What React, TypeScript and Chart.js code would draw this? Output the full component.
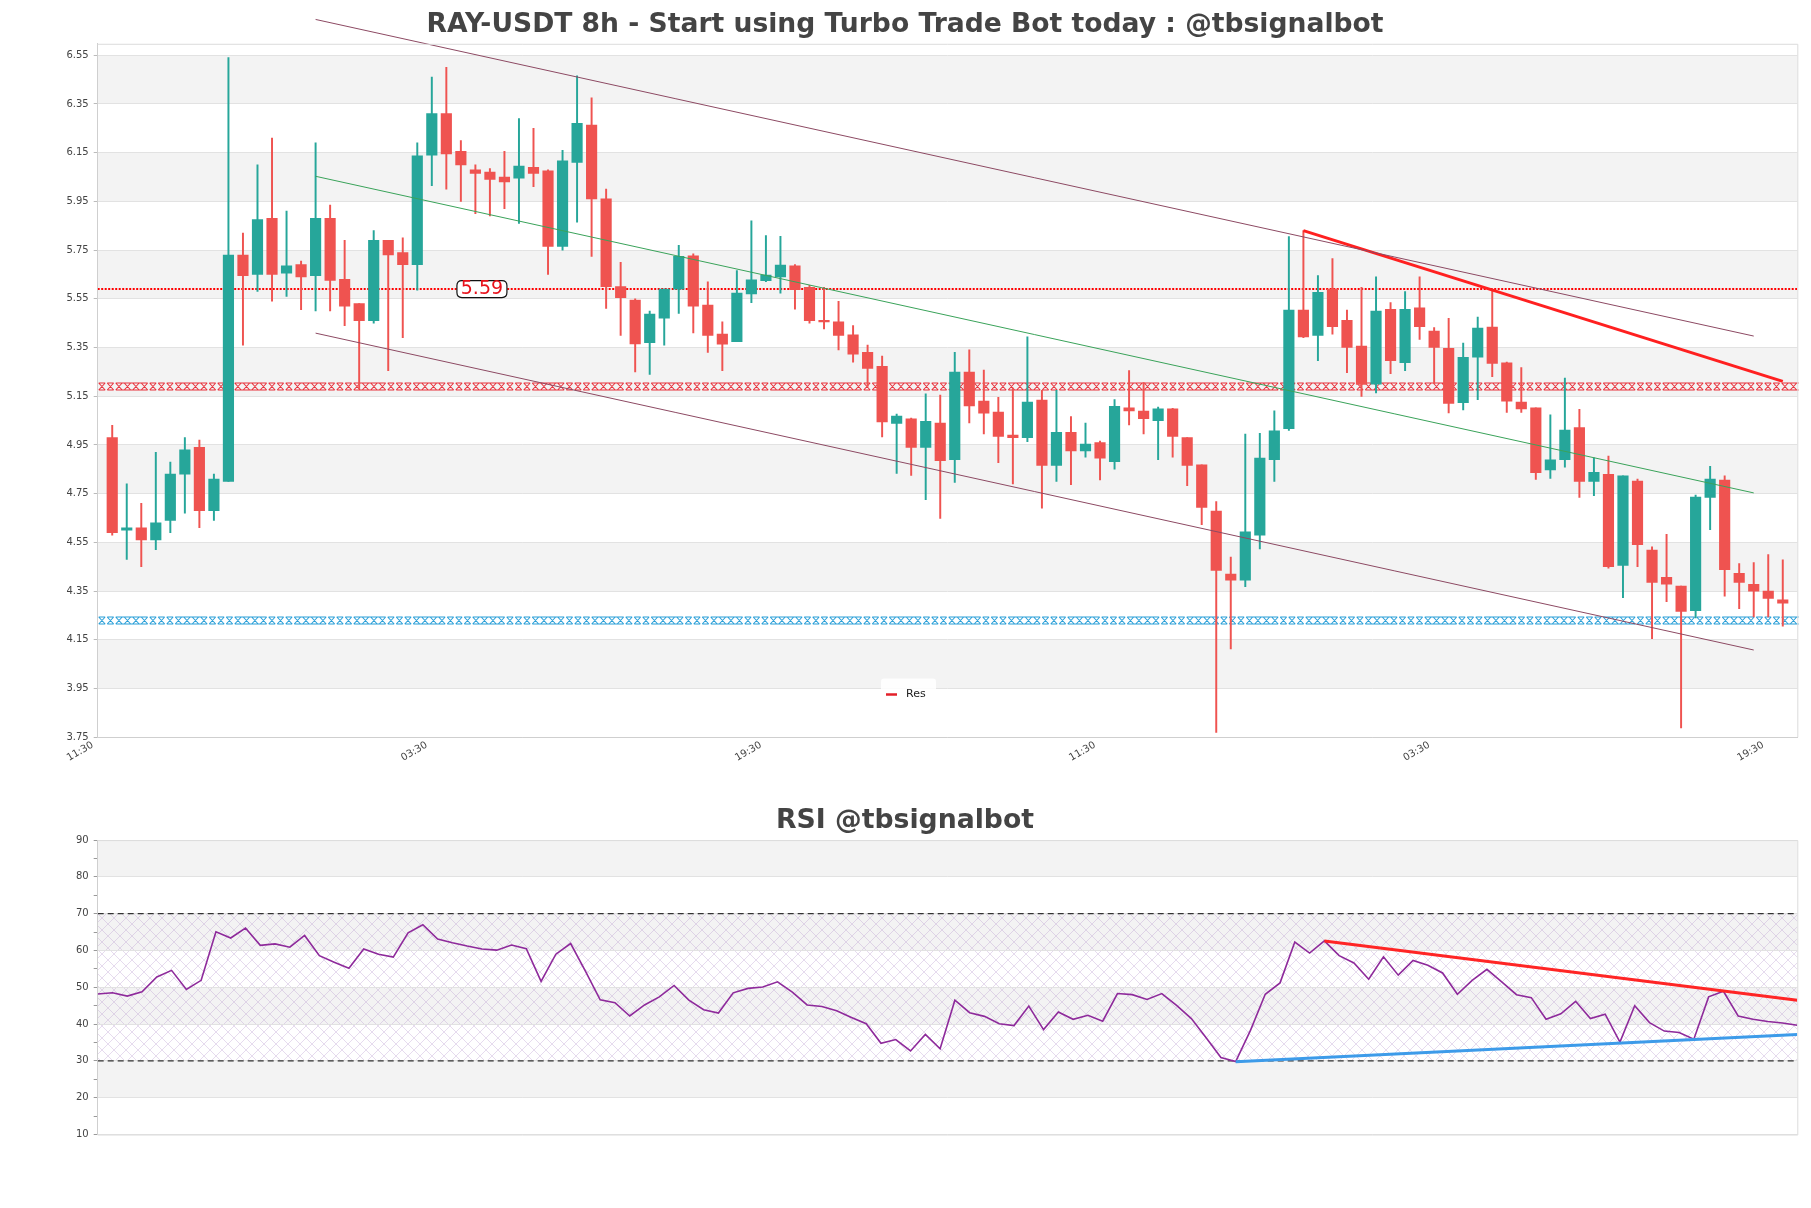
import React, { useEffect, useRef } from "react";
import { Chart, registerables } from "chart.js";

Chart.register(...registerables);

// ---------------- DATA ----------------
const opens = [
  4.98, 4.60, 4.61, 4.56, 4.64, 4.83, 4.94, 4.68, 4.80, 5.73,
  5.65, 5.88, 5.655, 5.69, 5.645, 5.88, 5.63, 5.53, 5.46, 5.79,
  5.74, 5.69, 6.14, 6.31, 6.155, 6.08, 6.07, 6.05, 6.045, 6.09,
  6.075, 5.765, 6.11, 6.263, 5.96, 5.60, 5.545, 5.37, 5.47, 5.59,
  5.726, 5.524, 5.405, 5.374, 5.57, 5.624, 5.64, 5.685, 5.597, 5.46,
  5.455, 5.402, 5.33, 5.273, 5.038, 5.057, 4.94, 5.04, 4.89, 5.249,
  5.13, 5.085, 4.99, 4.98, 5.134, 4.866, 5.002, 4.925, 4.96, 4.881,
  5.102, 5.089, 5.05, 5.098, 4.98, 4.868, 4.678, 4.42, 4.395, 4.58,
  4.89, 5.017, 5.504, 5.40, 5.59, 5.462, 5.356, 5.20, 5.507, 5.288,
  5.513, 5.417, 5.347, 5.124, 5.31, 5.434, 5.287, 5.126, 5.102, 4.847,
  4.89, 5.021, 4.80, 4.829, 4.455, 4.802, 4.518, 4.406, 4.37, 4.27,
  4.734, 4.806, 4.423, 4.378, 4.35, 4.314,
];
const highs = [
  5.03, 4.79, 4.71, 4.92, 4.88, 4.98, 4.97, 4.83, 6.54, 5.82,
  6.10, 6.21, 5.91, 5.705, 6.19, 5.935, 5.79, 5.53, 5.83, 5.79,
  5.80, 6.19, 6.46, 6.50, 6.20, 6.10, 6.085, 6.155, 6.29, 6.25,
  6.08, 6.16, 6.465, 6.375, 6.00, 5.70, 5.55, 5.50, 5.59, 5.77,
  5.735, 5.62, 5.455, 5.666, 5.87, 5.81, 5.807, 5.69, 5.605, 5.597,
  5.54, 5.44, 5.36, 5.315, 5.077, 5.06, 5.16, 5.155, 5.33, 5.34,
  5.257, 5.145, 5.183, 5.394, 5.174, 5.174, 5.066, 5.04, 4.966, 5.136,
  5.255, 5.206, 5.105, 5.10, 4.98, 4.868, 4.717, 4.49, 4.995, 4.998,
  5.09, 5.805, 5.83, 5.645, 5.715, 5.504, 5.597, 5.64, 5.535, 5.58,
  5.64, 5.432, 5.47, 5.368, 5.475, 5.588, 5.29, 5.268, 5.102, 5.074,
  5.225, 5.096, 4.897, 4.904, 4.823, 4.81, 4.532, 4.583, 4.37, 4.744,
  4.862, 4.823, 4.463, 4.467, 4.50, 4.478,
];
const lows = [
  4.58, 4.48, 4.45, 4.52, 4.59, 4.67, 4.61, 4.64, 4.80, 5.36,
  5.58, 5.54, 5.56, 5.505, 5.50, 5.50, 5.44, 5.18, 5.45, 5.255,
  5.39, 5.585, 6.015, 6.00, 5.95, 5.90, 5.89, 5.92, 5.86, 6.01,
  5.65, 5.75, 5.865, 5.724, 5.51, 5.40, 5.25, 5.24, 5.36, 5.49,
  5.41, 5.33, 5.255, 5.374, 5.534, 5.62, 5.573, 5.507, 5.45, 5.426,
  5.34, 5.29, 5.19, 4.983, 4.833, 4.825, 4.725, 4.648, 4.796, 5.04,
  4.995, 4.877, 4.79, 4.963, 4.69, 4.80, 4.787, 4.90, 4.806, 4.85,
  5.032, 4.995, 4.89, 4.90, 4.783, 4.623, 3.77, 4.112, 4.368, 4.523,
  4.80, 5.01, 5.39, 5.296, 5.405, 5.247, 5.149, 5.164, 5.243, 5.255,
  5.383, 5.202, 5.081, 5.094, 5.136, 5.23, 5.083, 5.083, 4.808, 4.813,
  4.859, 4.734, 4.742, 4.444, 4.323, 4.45, 4.155, 4.306, 3.788, 4.24,
  4.602, 4.329, 4.278, 4.244, 4.244, 4.206,
];
const closes = [
  4.59, 4.61, 4.56, 4.63, 4.83, 4.93, 4.68, 4.81, 5.73, 5.645,
  5.875, 5.65, 5.685, 5.64, 5.88, 5.625, 5.52, 5.46, 5.79, 5.73,
  5.69, 6.137, 6.31, 6.145, 6.10, 6.065, 6.04, 6.03, 6.095, 6.065,
  5.765, 6.116, 6.27, 5.96, 5.60, 5.555, 5.365, 5.487, 5.59, 5.724,
  5.52, 5.40, 5.364, 5.573, 5.628, 5.647, 5.688, 5.588, 5.46, 5.455,
  5.40, 5.323, 5.264, 5.045, 5.068, 4.94, 5.047, 4.885, 5.249, 5.11,
  5.08, 4.985, 4.98, 5.126, 4.866, 5.002, 4.925, 4.953, 4.896, 5.108,
  5.09, 5.058, 5.098, 4.985, 4.866, 4.693, 4.435, 4.395, 4.593, 4.896,
  5.008, 5.504, 5.394, 5.577, 5.436, 5.35, 5.198, 5.50, 5.296, 5.507,
  5.436, 5.35, 5.12, 5.31, 5.43, 5.285, 5.13, 5.098, 4.836, 4.889,
  5.011, 4.80, 4.838, 4.45, 4.823, 4.54, 4.385, 4.378, 4.266, 4.736,
  4.81, 4.438, 4.385, 4.35, 4.32, 4.30,
];
const rsi = [
  48.2, 48.5, 47.6, 48.8, 52.8, 54.6, 49.4, 51.9, 65.1, 63.4,
  66.1, 61.4, 61.8, 60.9, 64.1, 58.6, 56.8, 55.2, 60.4, 59.0,
  58.2, 64.8, 67.0, 63.1, 62.1, 61.2, 60.4, 60.1, 61.5, 60.5,
  51.6, 59.0, 61.9, 54.4, 46.6, 45.8, 42.2, 45.2, 47.4, 50.5,
  46.5, 43.9, 43.0, 48.5, 49.7, 50.1, 51.5, 48.7, 45.2, 44.8,
  43.6, 41.8, 40.1, 34.8, 35.8, 32.7, 37.2, 33.3, 46.5, 43.1,
  42.1, 40.1, 39.6, 44.9, 38.5, 43.3, 41.3, 42.4, 40.8, 48.3,
  48.0, 46.7, 48.3, 45.1, 41.5, 36.3, 30.9, 29.8, 38.3, 48.1,
  51.2, 62.3, 59.3, 62.6, 58.6, 56.6, 52.2, 58.3, 53.3, 57.3,
  56.0, 53.9, 48.1, 51.9, 54.9, 51.5, 48.0, 47.2, 41.3, 42.8,
  46.2, 41.5, 42.7, 35.1, 45.0, 40.4, 38.1, 37.7, 35.9, 47.4,
  48.9, 42.2, 41.3, 40.7, 40.3, 39.7,
];

const xTickPos = [-1, 22, 45, 68, 91, 114];
const xTickLabels = ["11:30", "03:30", "19:30", "11:30", "03:30", "19:30"];
const priceTicks = [3.75, 3.95, 4.15, 4.35, 4.55, 4.75, 4.95, 5.15, 5.35, 5.55, 5.75, 5.95, 6.15, 6.35, 6.55];
const priceGrayBands = [[3.95, 4.15], [4.35, 4.55], [4.75, 4.95], [5.15, 5.35], [5.55, 5.75], [5.95, 6.15], [6.35, 6.55]];
const rsiTicks = [10, 15, 20, 25, 30, 35, 40, 45, 50, 55, 60, 65, 70, 75, 80, 85, 90];
const rsiGrayBands = [[20, 30], [40, 50], [60, 70], [80, 90]];
const rsiHatchZone = [30, 70];

const channelUpper = [{ x: 14, y: 6.697 }, { x: 113, y: 5.397 }];
const channelMid = [{ x: 14, y: 6.053 }, { x: 113, y: 4.753 }];
const channelLower = [{ x: 14, y: 5.409 }, { x: 113, y: 4.108 }];
const resTrend = [{ x: 82, y: 5.83 }, { x: 115, y: 5.211 }];
const resLevel = 5.59;
const resLevelLabelX = 25.45;
const hatchLevels = [{ y: 5.193, color: "#e8323c" }, { y: 4.233, color: "#2a9fd8" }];
const rsiResTrend = [{ x: 83, y: 62.6 }, { x: 115, y: 46.5 }];
const rsiSupTrend = [{ x: 77, y: 29.8 }, { x: 115, y: 37.2 }];
const rsiLevels = [70, 30];

// --------------- STYLE ----------------
const FONT = '"DejaVu Sans", "Liberation Sans", sans-serif';
const GREEN = "#26a69a";
const RED = "#ef5350";
const BAND = "#f3f3f3";
const GRID = "#e2e2e2";
// hatch motif: 1 = X joined to the next one by top/bottom bars
const hatchMotif = [0, 0, 1, 1, 1, 0, 0];

function roundRect(ctx: CanvasRenderingContext2D, x: number, y: number, w: number, h: number, r: number) {
  ctx.beginPath();
  ctx.moveTo(x + r, y);
  ctx.lineTo(x + w - r, y);
  ctx.quadraticCurveTo(x + w, y, x + w, y + r);
  ctx.lineTo(x + w, y + h - r);
  ctx.quadraticCurveTo(x + w, y + h, x + w - r, y + h);
  ctx.lineTo(x + r, y + h);
  ctx.quadraticCurveTo(x, y + h, x, y + h - r);
  ctx.lineTo(x, y + r);
  ctx.quadraticCurveTo(x, y, x + r, y);
  ctx.closePath();
}

export default function App() {
  const mainRef = useRef<HTMLCanvasElement>(null);
  const rsiRef = useRef<HTMLCanvasElement>(null);

  useEffect(() => {
    const idx = opens.map((_, i) => i);
    const colors = idx.map((i) => (closes[i] >= opens[i] ? GREEN : RED));
    const wickData = idx.map((i) => ({ x: i, y: [lows[i], highs[i]] }));
    const bodyData = idx.map((i) => ({ x: i, y: [opens[i], closes[i]] }));

    const mainPlugin = {
      id: "mainDeco",
      beforeDraw(chart: any) {
        const { ctx, chartArea: a, scales } = chart;
        const y = scales.y;
        ctx.save();
        ctx.fillStyle = "#ffffff";
        ctx.fillRect(0, 0, chart.width, chart.height);
        ctx.fillStyle = BAND;
        priceGrayBands.forEach(([lo, hi]) => {
          const t = y.getPixelForValue(hi);
          const b = y.getPixelForValue(lo);
          ctx.fillRect(a.left, t, a.right - a.left, b - t);
        });
        ctx.restore();
      },
      beforeDatasetsDraw(chart: any) {
        const { ctx, chartArea: a, scales } = chart;
        hatchLevels.forEach((lv) => {
          const yc = Math.round(scales.y.getPixelForValue(lv.y)) + 0.5;
          const h = 7;
          const w = 6.5;
          const step = 8.5;
          ctx.save();
          ctx.strokeStyle = lv.color;
          ctx.lineWidth = 1.1;
          ctx.beginPath();
          let k = 0;
          for (let x = a.left + 1; x + w <= a.right; x += step, k++) {
            ctx.moveTo(x, yc - h / 2);
            ctx.lineTo(x + w, yc + h / 2);
            ctx.moveTo(x, yc + h / 2);
            ctx.lineTo(x + w, yc - h / 2);
            const joined = hatchMotif[k % hatchMotif.length] === 1;
            const len = joined ? step : w;
            ctx.moveTo(x, yc - h / 2);
            ctx.lineTo(x + len, yc - h / 2);
            ctx.moveTo(x, yc + h / 2);
            ctx.lineTo(x + len, yc + h / 2);
          }
          ctx.stroke();
          ctx.restore();
        });
      },
      afterDraw(chart: any) {
        const { ctx, chartArea: a, scales } = chart;
        ctx.save();
        // frame top/right
        ctx.strokeStyle = "#dcdcdc";
        ctx.lineWidth = 1;
        ctx.beginPath();
        ctx.moveTo(a.left, a.top + 0.5);
        ctx.lineTo(a.right + 0.5, a.top + 0.5);
        ctx.lineTo(a.right + 0.5, a.bottom);
        ctx.stroke();
        // level label
        const lx = scales.x.getPixelForValue(resLevelLabelX);
        const ly = scales.y.getPixelForValue(resLevel);
        roundRect(ctx, lx - 25, ly - 8.5, 50, 17, 5);
        ctx.fillStyle = "#ffffff";
        ctx.fill();
        ctx.strokeStyle = "#111";
        ctx.lineWidth = 1.2;
        ctx.stroke();
        ctx.fillStyle = "#e8101a";
        ctx.font = `19px ${FONT}`;
        ctx.textAlign = "center";
        ctx.textBaseline = "middle";
        ctx.fillText(resLevel.toFixed(2), lx, ly + 0.5);
        // legend
        const cx = 908;
        const cy = 694.5;
        ctx.fillStyle = "rgba(255,255,255,0.85)";
        roundRect(ctx, cx - 27, cy - 16, 55, 32, 3);
        ctx.fill();
        ctx.strokeStyle = "#e3202a";
        ctx.lineWidth = 2.5;
        ctx.beginPath();
        ctx.moveTo(cx - 22, cy);
        ctx.lineTo(cx - 11, cy);
        ctx.stroke();
        ctx.fillStyle = "#222";
        ctx.font = `11px ${FONT}`;
        ctx.textAlign = "left";
        ctx.fillText("Res", cx - 2, cy);
        // title
        ctx.fillStyle = "#444";
        ctx.font = `bold 26.6px ${FONT}`;
        ctx.textAlign = "center";
        ctx.fillText("RAY-USDT 8h - Start using Turbo Trade Bot today : @tbsignalbot", 905, 25.5);
        ctx.restore();
      },
    };

    const main = new Chart(mainRef.current!, {
      type: "bar",
      data: {
        datasets: [
          { type: "line", label: "upper", data: channelUpper, borderColor: "#8d4a63", borderWidth: 1, pointRadius: 0, clip: false, order: 0 } as any,
          { type: "line", label: "mid", data: channelMid, borderColor: "#3aa35a", borderWidth: 1, pointRadius: 0, clip: false, order: 0 } as any,
          { type: "line", label: "lower", data: channelLower, borderColor: "#8d4a63", borderWidth: 1, pointRadius: 0, clip: false, order: 0 } as any,
          { type: "line", label: "resTrend", data: resTrend, borderColor: "#ff2020", borderWidth: 3, pointRadius: 0, clip: false, order: 0 } as any,
          { type: "bar", label: "body", data: bodyData, backgroundColor: colors, barThickness: 10.5, grouped: false, minBarLength: 1.5, order: 2 } as any,
          { type: "bar", label: "wick", data: wickData, backgroundColor: colors, barThickness: 1.3, grouped: false, order: 3 } as any,
          { type: "line", label: "Res", data: [{ x: -1, y: resLevel }, { x: 116, y: resLevel }], borderColor: "#ff0000", borderDash: [2, 1.5], borderWidth: 2, pointRadius: 0, order: 4 } as any,
        ],
      },
      options: {
        responsive: false,
        animation: false,
        devicePixelRatio: 1,
        layout: { padding: { top: 43.8, right: 13.7, left: 0, bottom: 0 } },
        plugins: { legend: { display: false }, tooltip: { enabled: false }, title: { display: false } },
        scales: {
          x: {
            type: "linear",
            min: -1,
            max: 116,
            offset: false,
            afterBuildTicks: (s: any) => {
              s.ticks = xTickPos.map((v) => ({ value: v }));
            },
            afterFit: (s: any) => {
              s.height = 42.8;
            },
            grid: { display: false, drawTicks: false, tickLength: 0 },
            border: { display: true, color: "#cfcfcf" },
            ticks: {
              autoSkip: false,
              minRotation: 30,
              maxRotation: 30,
              padding: 2,
              labelOffset: -5,
              color: "#444",
              font: { size: 10, family: FONT },
              callback: (_v: any, i: number) => xTickLabels[i] ?? "",
            },
          },
          y: {
            type: "linear",
            min: 3.75,
            max: 6.597,
            afterBuildTicks: (s: any) => {
              s.ticks = priceTicks.map((v) => ({ value: v }));
            },
            afterFit: (s: any) => {
              s.width = 97.7;
            },
            grid: { color: GRID, tickLength: 4, tickColor: "#bbb" },
            border: { color: "#cfcfcf" },
            ticks: { padding: 5, color: "#444", font: { size: 10, family: FONT }, callback: (v: any) => Number(v).toFixed(2) },
          },
        },
      } as any,
      plugins: [mainPlugin],
    });

    const rsiPlugin = {
      id: "rsiDeco",
      beforeDraw(chart: any) {
        const { ctx, chartArea: a, scales } = chart;
        const y = scales.y;
        ctx.save();
        ctx.fillStyle = "#ffffff";
        ctx.fillRect(0, 0, chart.width, chart.height);
        ctx.fillStyle = BAND;
        rsiGrayBands.forEach(([lo, hi]) => {
          const t = y.getPixelForValue(hi);
          const b = y.getPixelForValue(lo);
          ctx.fillRect(a.left, t, a.right - a.left, b - t);
        });
        const pc = document.createElement("canvas");
        pc.width = 12;
        pc.height = 12;
        const g = pc.getContext("2d")!;
        g.strokeStyle = "rgba(190,160,210,0.55)";
        g.lineWidth = 0.7;
        g.beginPath();
        g.moveTo(0, 0);
        g.lineTo(12, 12);
        g.moveTo(12, 0);
        g.lineTo(0, 12);
        g.stroke();
        const pat = ctx.createPattern(pc, "repeat");
        if (pat) {
          ctx.fillStyle = pat;
          const t = y.getPixelForValue(rsiHatchZone[1]);
          const b = y.getPixelForValue(rsiHatchZone[0]);
          ctx.fillRect(a.left, t, a.right - a.left, b - t);
        }
        ctx.restore();
      },
      afterDraw(chart: any) {
        const { ctx, chartArea: a } = chart;
        ctx.save();
        ctx.strokeStyle = "#dcdcdc";
        ctx.lineWidth = 1;
        ctx.beginPath();
        ctx.moveTo(a.left, a.top + 0.5);
        ctx.lineTo(a.right + 0.5, a.top + 0.5);
        ctx.lineTo(a.right + 0.5, a.bottom + 0.5);
        ctx.lineTo(a.left, a.bottom + 0.5);
        ctx.stroke();
        ctx.fillStyle = "#444";
        ctx.font = `bold 26.7px ${FONT}`;
        ctx.textAlign = "center";
        ctx.textBaseline = "middle";
        ctx.fillText("RSI @tbsignalbot", 905, 41);
        ctx.restore();
      },
    };

    const rsiChart = new Chart(rsiRef.current!, {
      type: "line",
      data: {
        datasets: [
          { data: rsiResTrend, borderColor: "#ff2525", borderWidth: 3, pointRadius: 0, order: 0 },
          { data: rsiSupTrend, borderColor: "#3d9be9", borderWidth: 3, pointRadius: 0, order: 1 },
          { data: rsi.map((v, i) => ({ x: i, y: v })), borderColor: "#8e2a9b", borderWidth: 1.6, pointRadius: 0, order: 2 },
          ...rsiLevels.map((lv) => ({
            data: [{ x: 0, y: lv }, { x: 115, y: lv }],
            borderColor: "#333",
            borderDash: [6, 4],
            borderWidth: 1.2,
            pointRadius: 0,
            order: 3,
          })),
        ] as any,
      },
      options: {
        responsive: false,
        animation: false,
        devicePixelRatio: 1,
        layout: { padding: { top: 60.1, right: 13.7, left: 0, bottom: 73.5 } },
        plugins: { legend: { display: false }, tooltip: { enabled: false } },
        scales: {
          x: { type: "linear", min: 0, max: 115, display: false },
          y: {
            type: "linear",
            min: 10,
            max: 90,
            afterBuildTicks: (s: any) => {
              s.ticks = rsiTicks.map((v) => ({ value: v }));
            },
            afterFit: (s: any) => {
              s.width = 97.7;
            },
            grid: {
              color: (c: any) => (c.tick && c.tick.value % 10 === 0 ? GRID : "rgba(0,0,0,0)"),
              tickColor: "#999",
              tickLength: 4,
            },
            border: { color: "#cfcfcf" },
            ticks: {
              padding: 5,
              color: "#444",
              font: { size: 10, family: FONT },
              callback: (v: any) => (Number(v) % 10 === 0 ? String(v) : ""),
            },
          },
        },
      } as any,
      plugins: [rsiPlugin],
    });

    return () => {
      main.destroy();
      rsiChart.destroy();
    };
  }, []);

  return (
    <div style={{ position: "absolute", left: 0, top: 0, width: 1811, height: 1208, background: "#fff", overflow: "hidden" }}>
      <canvas ref={mainRef} width={1811} height={780} style={{ position: "absolute", left: 0, top: 0, width: 1811, height: 780 }} />
      <canvas ref={rsiRef} width={1811} height={428} style={{ position: "absolute", left: 0, top: 780, width: 1811, height: 428 }} />
    </div>
  );
}
